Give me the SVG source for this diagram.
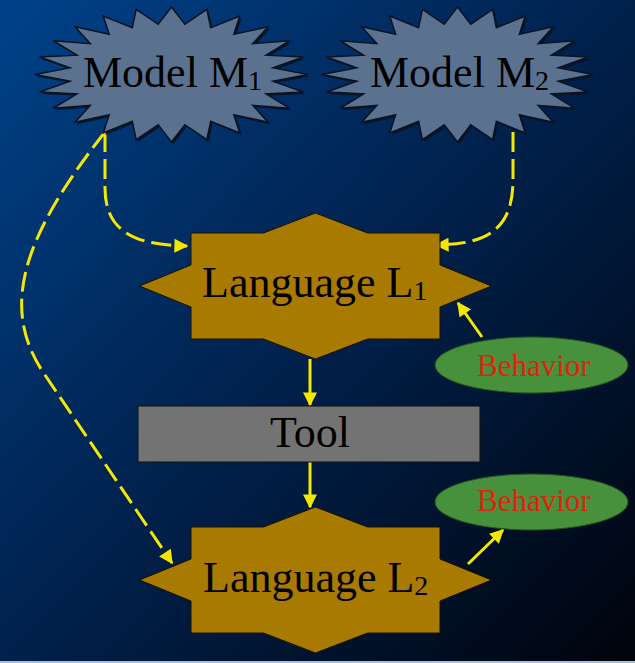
<svg xmlns="http://www.w3.org/2000/svg" xmlns:xlink="http://www.w3.org/1999/xlink" width="635" height="663" viewBox="0 0 635 663">
<defs>
<linearGradient id="bg" x1="0" y1="0" x2="1" y2="1">
<stop offset="0" stop-color="#00428a"/>
<stop offset="0.5" stop-color="#00214c"/>
<stop offset="1" stop-color="#00040c"/>
</linearGradient>
<polygon id="star" vector-effect="non-scaling-stroke" points="0,-100 9.79,-74.36 25.88,-96.59 28.7,-69.29 50,-86.6 45.66,-59.5 70.71,-70.71 59.5,-45.66 86.6,-50 69.29,-28.7 96.59,-25.88 74.36,-9.79 100,0 74.36,9.79 96.59,25.88 69.29,28.7 86.6,50 59.5,45.66 70.71,70.71 45.66,59.5 50,86.6 28.7,69.29 25.88,96.59 9.79,74.36 0,100 -9.79,74.36 -25.88,96.59 -28.7,69.29 -50,86.6 -45.66,59.5 -70.71,70.71 -59.5,45.66 -86.6,50 -69.29,28.7 -96.59,25.88 -74.36,9.79 -100,0 -74.36,-9.79 -96.59,-25.88 -69.29,-28.7 -86.6,-50 -59.5,-45.66 -70.71,-70.71 -45.66,-59.5 -50,-86.6 -28.7,-69.29 -25.88,-96.59 -9.79,-74.36"/>
<polygon id="lang" points="-124.5,-53 -52,-53 0,-73 52,-53 124.5,-53 124.5,-21 176,0 124.5,21 124.5,53 52,53 0,73 -52,53 -124.5,53 -124.5,21 -176,0 -124.5,-21"/>
<marker id="ah" viewBox="0 0 10 10" refX="9" refY="5" markerWidth="15" markerHeight="14" markerUnits="userSpaceOnUse" orient="auto">
<path d="M0,0 L10,5 L0,10 z" fill="#f5e800"/>
</marker>
<style>
.t{font-family:"Liberation Serif","Times New Roman",serif;fill:#000;}
.big{font-size:44px;}
.sub{font-size:28px;}
.beh{font-family:"Liberation Serif","Times New Roman",serif;font-size:31px;fill:#e0230c;}
.starshadow{fill:#08152a;stroke:none;}
.starmain{fill:#5a7190;stroke:#0a1322;stroke-width:1.5;}
.lang{fill:#a97a00;stroke:#1a1200;stroke-width:1;}
.ell{fill:#47913d;stroke:#24501e;stroke-width:1;}
.c{fill:none;stroke:#f5e800;stroke-width:3;marker-end:url(#ah);}
.d{stroke-dasharray:20 7;}
</style>
</defs>
<rect x="0" y="0" width="635" height="663" fill="url(#bg)"/>
<rect x="0" y="661" width="635" height="2" fill="#a9bdd8"/>

<g id="connectors">
<path class="c d" d="M105,132 L105,188 C105,235 140,245 187,246"/>
<path class="c d" d="M105,132 C20,240 0,310 45,375 L172,563"/>
<path class="c d" d="M513,132 L513,180 C513,235 480,244 436,245"/>
<path class="c" d="M310,359 L310,405"/>
<path class="c" d="M310,462 L310,507"/>
<path class="c" d="M482,337 L458,303"/>
<path class="c" d="M468,564 L503,530"/>
</g>

<g id="modelM1">
<use xlink:href="#star" class="starshadow" transform="translate(173.5,76.5) scale(1.365,0.675)"/>
<use xlink:href="#star" class="starmain" transform="translate(171.5,74.5) scale(1.365,0.675)"/>
<text class="t big" x="83" y="87">Model M<tspan class="sub" dy="3">1</tspan></text>
</g>

<g id="modelM2">
<use xlink:href="#star" class="starshadow" transform="translate(459.5,76.5) scale(1.355,0.675)"/>
<use xlink:href="#star" class="starmain" transform="translate(457.5,74.5) scale(1.355,0.675)"/>
<text class="t big" x="370" y="87">Model M<tspan class="sub" dy="3">2</tspan></text>
</g>

<g id="languageL1">
<use xlink:href="#lang" class="lang" transform="translate(315.5,286)"/>
<text class="t big" x="202" y="297">Language L<tspan class="sub" dy="3">1</tspan></text>
</g>

<g id="tool">
<rect x="138" y="406" width="342" height="56" fill="#737373" stroke="#111" stroke-width="1"/>
<text class="t big" x="310" y="447" text-anchor="middle">Tool</text>
</g>

<g id="languageL2">
<use xlink:href="#lang" class="lang" transform="translate(315.5,580)"/>
<text class="t big" x="203" y="592">Language L<tspan class="sub" dy="3">2</tspan></text>
</g>

<g id="behavior1">
<ellipse class="ell" cx="531.5" cy="365" rx="96.5" ry="28"/>
<text class="beh" x="477" y="376">Behavior</text>
</g>

<g id="behavior2">
<ellipse class="ell" cx="531.5" cy="502" rx="96.5" ry="28"/>
<text class="beh" x="477" y="511">Behavior</text>
</g>
</svg>
